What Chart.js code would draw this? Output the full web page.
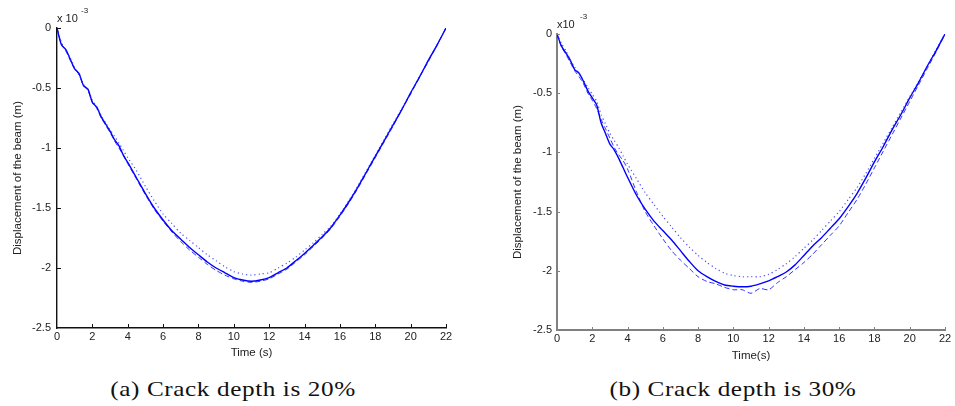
<!DOCTYPE html>
<html lang="en">
<head>
<meta charset="UTF-8" />
<title>Displacement of the beam</title>
<script src="https://cdn.jsdelivr.net/npm/chart.js@4.4.0/dist/chart.umd.min.js"></script>
<style>
  body { margin: 0; background: #fff; width: 955px; height: 406px; position: relative; overflow: hidden; font-family: "Liberation Sans", Arial, sans-serif; }
  canvas { position: absolute; top: 0; }
  .exp { position: absolute; font-size: 11px; line-height: 12px; color: #222; white-space: nowrap; }
  .sup { position: absolute; font-size: 8px; line-height: 10px; color: #222; }
  .cap { position: absolute; top: 377px; width: 400px; text-align: center; font-family: "Liberation Serif", serif; font-size: 21px; line-height: 24px; letter-spacing: 0.5px; color: #111; transform: scaleX(1.2); transform-origin: 50% 50%; }
</style>
</head>
<body>
<canvas id="chartA" width="480" height="372" style="left:0"></canvas>
<canvas id="chartB" width="475" height="372" style="left:480px"></canvas>
<div class="exp" style="left:57px;top:12px">x 10</div><div class="sup" style="left:81px;top:6px">-3</div>
<div class="exp" style="left:557px;top:18px">x10</div><div class="sup" style="left:580px;top:12px">-3</div>
<div class="cap" style="left:33px">(a) Crack depth is 20%</div>
<div class="cap" style="left:533px">(b) Crack depth is 30%</div>

<script>
// time (s), shared by all curves
const time = [0, 0.25, 0.5, 0.75, 1, 1.25, 1.5, 1.75, 2, 2.25, 2.5, 2.75, 3, 3.25, 3.5, 3.75, 4,
  4.5, 5, 5.5, 6, 6.5, 7, 7.5, 8, 8.5, 9, 9.5, 10, 10.5, 11, 11.5, 12, 12.5, 13, 13.5, 14,
  14.5, 15, 15.5, 16, 16.5, 17, 17.5, 18, 18.5, 19, 19.5, 20, 20.5, 21, 21.5, 22];

// displacement x 1e-3 m, crack depth 20%
const a_solid = [0, -0.14, -0.18, -0.26, -0.34, -0.38, -0.48, -0.51, -0.62, -0.66, -0.74, -0.80, -0.86, -0.93, -0.98, -1.06, -1.12,
  -1.25, -1.38, -1.50, -1.60, -1.69, -1.76, -1.83, -1.89, -1.95, -2.00, -2.04, -2.08, -2.10, -2.11, -2.10, -2.08, -2.04, -2.00, -1.94, -1.88,
  -1.81, -1.74, -1.66, -1.56, -1.45, -1.33, -1.20, -1.07, -0.94, -0.81, -0.68, -0.54, -0.41, -0.27, -0.14, 0];
const a_dashed = [0, -0.13, -0.19, -0.27, -0.34, -0.39, -0.48, -0.52, -0.62, -0.67, -0.75, -0.81, -0.87, -0.94, -1.00, -1.06, -1.13,
  -1.26, -1.39, -1.51, -1.61, -1.70, -1.78, -1.85, -1.91, -1.97, -2.02, -2.06, -2.09, -2.11, -2.12, -2.11, -2.09, -2.05, -2.01, -1.95, -1.89,
  -1.82, -1.75, -1.67, -1.57, -1.46, -1.34, -1.21, -1.08, -0.95, -0.82, -0.68, -0.55, -0.41, -0.28, -0.14, 0];
const a_dotted = [0, -0.12, -0.19, -0.25, -0.33, -0.39, -0.47, -0.52, -0.60, -0.66, -0.73, -0.79, -0.85, -0.90, -0.96, -1.02, -1.08,
  -1.19, -1.32, -1.44, -1.55, -1.63, -1.71, -1.77, -1.83, -1.89, -1.94, -1.99, -2.03, -2.05, -2.06, -2.05, -2.04, -2.00, -1.96, -1.91, -1.85,
  -1.79, -1.72, -1.65, -1.55, -1.44, -1.32, -1.19, -1.06, -0.93, -0.80, -0.67, -0.54, -0.40, -0.27, -0.14, 0];

// displacement x 1e-3 m, crack depth 30%
const b_solid = [0, -0.10, -0.16, -0.22, -0.30, -0.33, -0.40, -0.48, -0.54, -0.60, -0.75, -0.84, -0.93, -0.98, -1.05, -1.13, -1.21,
  -1.36, -1.48, -1.58, -1.66, -1.74, -1.83, -1.92, -2.00, -2.05, -2.09, -2.12, -2.13, -2.135, -2.13, -2.11, -2.085, -2.05, -2.01, -1.95, -1.87,
  -1.79, -1.72, -1.64, -1.56, -1.46, -1.35, -1.22, -1.08, -0.95, -0.81, -0.68, -0.54, -0.41, -0.27, -0.14, 0];
const b_dashed = [0, -0.11, -0.17, -0.24, -0.31, -0.36, -0.42, -0.50, -0.56, -0.63, -0.72, -0.80, -0.88, -0.96, -1.02, -1.07, -1.14,
  -1.33, -1.50, -1.62, -1.73, -1.83, -1.91, -1.98, -2.05, -2.09, -2.11, -2.14, -2.16, -2.16, -2.19, -2.15, -2.16, -2.10, -2.05, -1.99, -1.93,
  -1.86, -1.78, -1.70, -1.62, -1.51, -1.40, -1.27, -1.13, -0.99, -0.85, -0.71, -0.57, -0.43, -0.29, -0.15, 0];
const b_dotted = [0, -0.08, -0.14, -0.22, -0.28, -0.34, -0.39, -0.45, -0.51, -0.57, -0.68, -0.76, -0.84, -0.90, -0.96, -1.03, -1.10,
  -1.22, -1.34, -1.44, -1.54, -1.63, -1.72, -1.80, -1.87, -1.93, -1.98, -2.02, -2.04, -2.05, -2.05, -2.05, -2.03, -1.99, -1.94, -1.88, -1.81,
  -1.74, -1.66, -1.58, -1.50, -1.40, -1.30, -1.18, -1.05, -0.92, -0.79, -0.66, -0.53, -0.40, -0.27, -0.13, 0];

const tickFont = { family: "'Liberation Sans', Arial, sans-serif", size: 11 };
const titleFont = { family: "'Liberation Sans', Arial, sans-serif", size: 11.5 };

// small ticks pointing into the plot, like the original figure
const innerTicks = {
  id: "innerTicks",
  afterDraw(chart, args, opts) {
    const { ctx, chartArea: a, scales: { x, y } } = chart;
    ctx.save();
    ctx.strokeStyle = opts.color;
    ctx.lineWidth = 1;
    ctx.beginPath();
    x.ticks.forEach((t) => {
      if (t.value === 0) return;
      const px = Math.round(x.getPixelForValue(t.value)) + 0.5;
      ctx.moveTo(px, a.bottom);
      ctx.lineTo(px, a.bottom - opts.len);
    });
    y.ticks.forEach((t) => {
      if (t.value === -2.5) return;
      const py = Math.round(y.getPixelForValue(t.value)) + 0.5;
      ctx.moveTo(a.left, py);
      ctx.lineTo(a.left + opts.len, py);
    });
    ctx.stroke();
    ctx.restore();
  },
};

function buildChart(id, solid, dashed, dotted, s) {
  const pts = (arr) => time.map((t, i) => ({ x: t, y: arr[i] }));
  return new Chart(document.getElementById(id), {
    type: "line",
    data: {
      datasets: [
        { data: pts(dotted), borderColor: "rgba(30,30,255,0.8)", borderWidth: 1.2, borderDash: [1.2, 3] },
        { data: pts(dashed), borderColor: "rgba(0,0,255,0.8)", borderWidth: 1, borderDash: [5, 3] },
        { data: pts(solid), borderColor: "#0000ff", borderWidth: 1.4 },
      ],
    },
    options: {
      responsive: false,
      animation: false,
      layout: { padding: { top: s.top, right: s.right, left: 0, bottom: 0 } },
      elements: { point: { radius: 0 }, line: { tension: 0.25 } },
      plugins: {
        legend: { display: false },
        tooltip: { enabled: false },
        innerTicks: { color: s.axisColor, len: s.tickLen },
      },
      scales: {
        x: {
          type: "linear",
          min: 0,
          max: 22,
          ticks: { stepSize: 2, padding: 2, color: "#222", font: tickFont, maxRotation: 0 },
          grid: { drawOnChartArea: false, drawTicks: false },
          border: { color: s.axisColor, width: s.axisWidth },
          title: { display: true, text: s.xTitle, color: "#222", font: titleFont, padding: { top: 0, bottom: s.xTitlePad } },
          afterFit: (sc) => { sc.height = s.xHeight; },
        },
        y: {
          min: -2.5,
          max: 0,
          ticks: {
            stepSize: 0.5, padding: s.yTickPad, color: "#222", font: tickFont,
            callback: (v) => String(Number(v.toFixed(1))),
          },
          grid: { drawOnChartArea: false, drawTicks: false },
          border: { color: s.axisColor, width: s.axisWidth },
          title: { display: true, text: "Displacement of the beam (m)", color: "#222", font: titleFont, padding: { top: s.yTitlePad, bottom: 0 } },
          afterFit: (sc) => { sc.width = s.yWidth; },
        },
      },
    },
    plugins: [innerTicks],
  });
}

buildChart("chartA", a_solid, a_dashed, a_dotted, {
  top: 28, right: 34, yWidth: 57, xHeight: 44, axisColor: "#111", axisWidth: 1.4,
  tickLen: 4, xTitle: "Time (s)", xTitlePad: 12, yTitlePad: 11, yTickPad: 6,
});
buildChart("chartB", b_solid, b_dashed, b_dotted, {
  top: 34, right: 10, yWidth: 77, xHeight: 42, axisColor: "#808080", axisWidth: 2,
  tickLen: 3, xTitle: "Time(s)", xTitlePad: 9, yTitlePad: 31, yTickPad: 5,
});
</script>
</body>
</html>
